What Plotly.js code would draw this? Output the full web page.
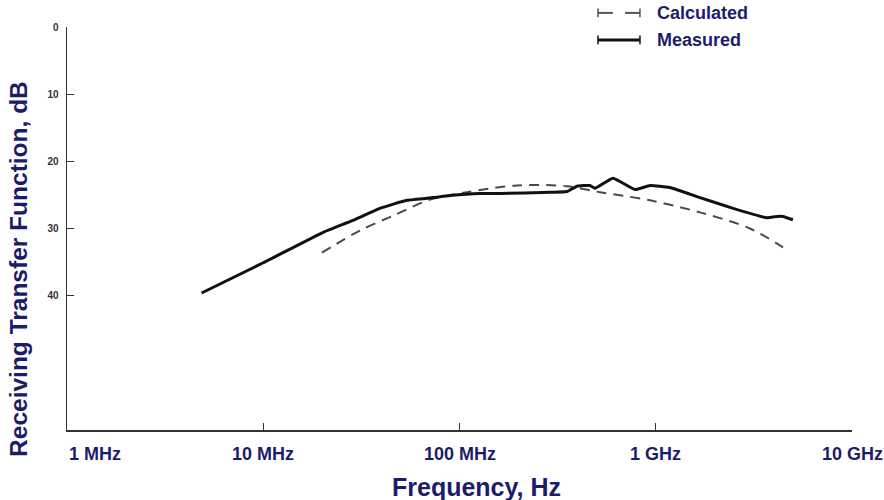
<!DOCTYPE html>
<html>
<head>
<meta charset="utf-8">
<script src="https://cdn.plot.ly/plotly-3.0.1.min.js"></script>
<style>html,body{margin:0;padding:0;background:#fff;}#chart{width:884px;height:500px;}</style>
</head>
<body>
<div id="chart"></div>
<script>
// Measured receiving transfer function (Hz, dB)
var measuredFreq = [4.85e6, 10e6, 20.1e6, 28.6e6, 39.3e6, 54e6, 73.3e6, 89.5e6, 127e6, 161e6, 289e6, 353e6, 397e6, 462e6, 490e6, 605e6, 784e6, 935e6, 1.18e9, 1.68e9, 2.48e9, 3.69e9, 4.15e9, 4.45e9, 5.0e9];
var measuredDb   = [39.6, 35.1, 30.6, 28.8, 27.0, 25.8, 25.4, 25.1, 24.8, 24.8, 24.6, 24.5, 23.7, 23.6, 24.0, 22.5, 24.2, 23.6, 23.9, 25.4, 27.0, 28.4, 28.2, 28.2, 28.7];

// Calculated receiving transfer function (Hz, dB)
var calcFreq = [19.9e6, 31.1e6, 45.8e6, 70.8e6, 109e6, 196e6, 353e6, 520e6, 935e6, 1.68e9, 3.02e9, 4.45e9];
var calcDb   = [33.6, 30.3, 28.1, 25.7, 24.6, 23.6, 23.7, 24.6, 25.8, 27.6, 30.0, 32.8];

// Axis ticks
var xTickVals = [1e6, 1e7, 1e8, 1e9, 1e10];
var xTickText = ["1 MHz", "10 MHz", "100 MHz", "1 GHz", "10 GHz"];
var yTickVals = [0, 10, 20, 30, 40];
var yTickText = ["0", "10", "20", "30", "40"];

var seriesNames = ["Calculated", "Measured"];
var xTitle = "Frequency, Hz";
var yTitle = "Receiving Transfer Function, dB";

var navy = "#1c1c6a";
var font = "Liberation Sans, Arial, sans-serif";

var traces = [
  {x: calcFreq, y: calcDb, name: seriesNames[0], mode: "lines", type: "scatter",
   line: {color: "#4a4a4a", width: 2, dash: "10px,7px", shape: "spline", smoothing: 0.9}, showlegend: false},
  {x: measuredFreq, y: measuredDb, name: seriesNames[1], mode: "lines", type: "scatter",
   line: {color: "#111", width: 3, shape: "spline", smoothing: 0.4}, showlegend: false}
];

var annotations = [];
for (var i = 0; i < xTickVals.length; i++) {
  annotations.push({
    x: Math.log10(xTickVals[i]), xref: "x", y: -0.06, yref: "paper",
    text: "<b>" + xTickText[i] + "</b>", showarrow: false,
    xanchor: i === 0 ? "left" : "center", yanchor: "middle",
    font: {family: font, size: 18, color: navy}
  });
}
// axis titles
annotations.push({
  x: 0.522, xref: "paper", y: -0.142, yref: "paper",
  text: "<b>" + xTitle + "</b>", showarrow: false, xanchor: "center", yanchor: "middle",
  font: {family: font, size: 25, color: navy}
});
annotations.push({
  x: -0.061, xref: "paper", y: 0.40, yref: "paper", textangle: -90,
  text: "<b>" + yTitle + "</b>", showarrow: false, xanchor: "center", yanchor: "middle",
  font: {family: font, size: 24.5, color: navy}
});
// legend texts
var legY = [1.035, 0.968];
for (var j = 0; j < seriesNames.length; j++) {
  annotations.push({
    x: 0.749, xref: "paper", y: legY[j], yref: "paper",
    text: "<b>" + seriesNames[j] + "</b>", showarrow: false,
    xanchor: "left", yanchor: "middle",
    font: {family: font, size: 18, color: navy}
  });
}

var x0 = 0.6764, x1 = 0.7299, cap = 0.011;
var shapes = [
  // Calculated glyph
  {type: "line", xref: "paper", yref: "paper", x0: x0, x1: x0 + 0.019, y0: legY[0], y1: legY[0], line: {color: "#555", width: 2}},
  {type: "line", xref: "paper", yref: "paper", x0: x1 - 0.019, x1: x1, y0: legY[0], y1: legY[0], line: {color: "#555", width: 2}},
  {type: "line", xref: "paper", yref: "paper", x0: x0, x1: x0, y0: legY[0] - cap, y1: legY[0] + cap, line: {color: "#555", width: 1.5}},
  {type: "line", xref: "paper", yref: "paper", x0: x1, x1: x1, y0: legY[0] - cap, y1: legY[0] + cap, line: {color: "#555", width: 1.5}},
  // Measured glyph
  {type: "line", xref: "paper", yref: "paper", x0: x0, x1: x1, y0: legY[1], y1: legY[1], line: {color: "#111", width: 3}},
  {type: "line", xref: "paper", yref: "paper", x0: x0, x1: x0, y0: legY[1] - cap, y1: legY[1] + cap, line: {color: "#111", width: 1.5}},
  {type: "line", xref: "paper", yref: "paper", x0: x1, x1: x1, y0: legY[1] - cap, y1: legY[1] + cap, line: {color: "#111", width: 1.5}}
];

var layout = {
  width: 884, height: 500,
  margin: {l: 67, r: 32, t: 27, b: 70},
  paper_bgcolor: "#fff", plot_bgcolor: "#fff",
  showlegend: false,
  xaxis: {
    type: "log", range: [6, 10], tickvals: xTickVals, ticktext: xTickText,
    showticklabels: false, ticks: "inside", ticklen: 7, tickcolor: "#333", tickwidth: 1.3,
    showline: true, linecolor: "#333", linewidth: 1.5, showgrid: false, zeroline: false
  },
  yaxis: {
    range: [60, 0], tickvals: yTickVals, ticktext: yTickText,
    ticks: "inside", ticklen: 7, tickcolor: "#333", tickwidth: 1.3,
    tickfont: {family: font, size: 10, color: "#333", weight: "bold"},
    ticklabelstandoff: 5,
    showline: true, linecolor: "#333", linewidth: 1.5, showgrid: false, zeroline: false
  },
  annotations: annotations,
  shapes: shapes
};

Plotly.newPlot("chart", traces, layout, {displayModeBar: false, staticPlot: true});
</script>
</body>
</html>
